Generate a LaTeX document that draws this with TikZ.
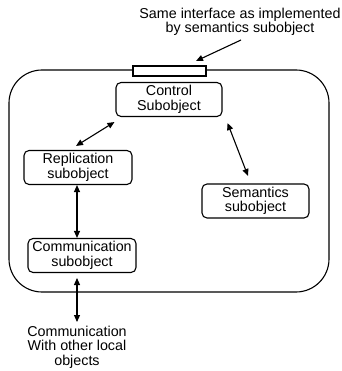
\documentclass[tikz,border=0pt]{standalone}
\usepackage{fontspec}
\setmainfont{Liberation Sans}
\usetikzlibrary{arrows.meta}
\tikzset{
	subobj/.style={draw, rounded corners=5pt, align=center, inner sep=0pt, minimum height=34pt},
	lbl/.style={align=center, inner sep=0pt},
	link/.style={{Triangle[length=7pt,width=6pt]}-{Triangle[length=7pt,width=6pt]}},
}
\begin{document}
\begin{tikzpicture}[x=1pt, y=-1pt, line width=1.1pt, font=\fontsize{14.3}{14.5}\selectfont]
		\useasboundingbox (0, 0) rectangle (341, 371);
		% object boundary and its interface
		\draw[rounded corners=33pt] (9, 70) rectangle (329, 292);
		\draw[fill=white] (133, 66) rectangle (206, 76);
		\coordinate (iface) at (196, 61);

		\node[lbl] (note) at (240, 22) {Same interface as implemented\\by semantics subobject};
		\draw[-{Triangle[length=7pt,width=6pt]}] (241, 40) -- (iface);

		% subobjects
		\node[subobj, minimum width=106pt] (control) at (169, 99.5) {Control\\Subobject};
		\node[subobj, minimum width=108pt] (repl) at (78, 167.5) {Replication\\subobject};
		\node[subobj, minimum width=107pt] (sem) at (255.5, 201) {Semantics\\subobject};
		\node[subobj, minimum width=108pt] (comm) at (82, 255.5) {Communication\\subobject};

		\node[lbl] (outside) at (77, 347) {Communication\\With other local\\objects};
		\coordinate (link top) at (77, 278);
		\coordinate (link bot) at (77, 322);

		\draw[link] ([shift={(-1,5)}]control.south west) -- ([shift={(-2,-4)}]repl.north);
		\draw[link] ([shift={(5,6)}]control.south east) -- ([shift={(-7.5,-7.5)}]sem.north);
		\draw[link] (repl.south -| link top) -- (comm.north -| link top);
		\draw[link] (link top) -- (link bot);
	\end{tikzpicture}
\end{document}
